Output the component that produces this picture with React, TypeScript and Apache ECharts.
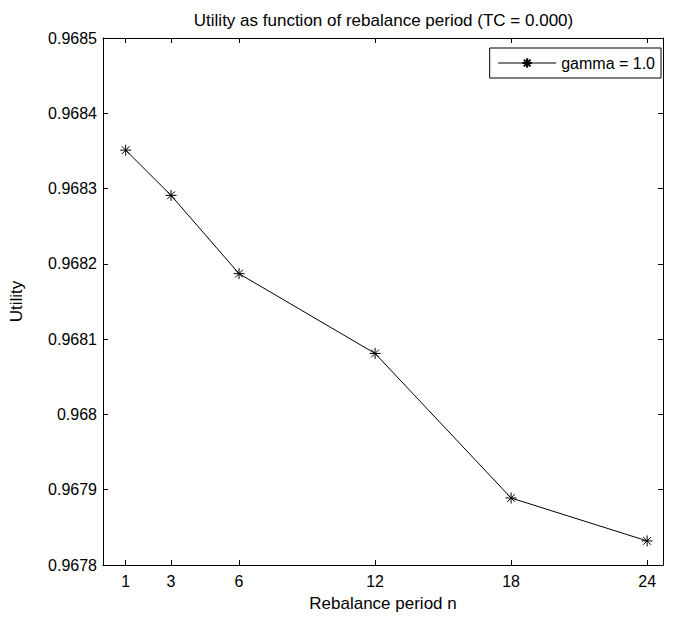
import React, { useEffect, useRef } from "react";
import * as echarts from "echarts";

const periods = [1, 3, 6, 12, 18, 24];
const utility = [0.968351, 0.968291, 0.968187, 0.968081, 0.967889, 0.967832];
const xTicks = [1, 3, 6, 12, 18, 24];
const seriesName = "gamma = 1.0";
const titleText = "Utility as function of rebalance period (TC = 0.000)";

const star = "path://M0,-10L0,10M-10,0L10,0M-7,-7L7,7M-7,7L7,-7";
const FONT = "Liberation Sans, Arial, Helvetica, sans-serif";

export default function App() {
  const ref = useRef<HTMLDivElement>(null);
  useEffect(() => {
    if (!ref.current) return;
    const chart = echarts.init(ref.current, null, { renderer: "svg" });
    const fmtY = (v: number) => String(parseFloat(v.toFixed(4)));
    const axisLine = { show: true, onZero: false, lineStyle: { color: "#000", width: 1 } };
    chart.setOption({
      animation: false,
      backgroundColor: "#fff",
      textStyle: { fontFamily: FONT },
      title: {
        text: titleText,
        left: 94 + (663 - 94) / 2,
        textAlign: "center",
        top: 7,
        textStyle: { fontSize: 17, fontWeight: "normal", color: "#000", fontFamily: FONT },
      },
      legend: {
        data: [seriesName],
        right: 19,
        top: 48,
        orient: "vertical",
        borderColor: "#000",
        borderWidth: 1,
        padding: [7, 6, 7, 8],
        itemWidth: 58,
        itemHeight: 12,
        itemGap: 4,
        lineStyle: { width: 1, color: "#000" },
        textStyle: { fontSize: 16, color: "#000", fontFamily: FONT },
        backgroundColor: "#fff",
      },
      grid: { left: 94, right: 17, top: 38, bottom: 43, containLabel: false },
      xAxis: [
        {
          type: "value",
          min: 0,
          max: 24.7,
          position: "bottom",
          name: "Rebalance period n",
          nameLocation: "middle",
          nameGap: 30,
          nameTextStyle: { fontSize: 17, color: "#000", fontFamily: FONT },
          axisLine,
          axisTick: { show: true, inside: true, length: 5, customValues: xTicks, lineStyle: { color: "#000" } },
          axisLabel: { show: true, customValues: xTicks, fontSize: 16, color: "#000", margin: 8, fontFamily: FONT },
          splitLine: { show: false },
        },
        {
          type: "value",
          min: 0,
          max: 24.7,
          position: "top",
          axisLine,
          axisTick: { show: true, inside: true, length: 5, customValues: xTicks, lineStyle: { color: "#000" } },
          axisLabel: { show: false },
          splitLine: { show: false },
        },
      ],
      yAxis: [
        {
          type: "value",
          min: 0.9678,
          max: 0.9685,
          interval: 0.0001,
          position: "left",
          name: "Utility",
          nameLocation: "middle",
          nameGap: 78,
          nameRotate: 90,
          nameTextStyle: { fontSize: 17, color: "#000", fontFamily: FONT },
          axisLine,
          axisTick: { show: true, inside: true, length: 5, lineStyle: { color: "#000" } },
          axisLabel: { fontSize: 16, color: "#000", formatter: fmtY, margin: 6, fontFamily: FONT },
          splitLine: { show: false },
        },
        {
          type: "value",
          min: 0.9678,
          max: 0.9685,
          interval: 0.0001,
          position: "right",
          axisLine,
          axisTick: { show: true, inside: true, length: 5, lineStyle: { color: "#000" } },
          axisLabel: { show: false },
          splitLine: { show: false },
        },
      ],
      series: [
        {
          name: seriesName,
          type: "line",
          xAxisIndex: 0,
          yAxisIndex: 0,
          data: periods.map((p, i) => [p, utility[i]]),
          symbol: star,
          symbolSize: 11,
          showAllSymbol: true,
          lineStyle: { color: "#000", width: 1 },
          itemStyle: { color: "#000", borderColor: "#000", borderWidth: 1 },
        },
      ],
    });
    return () => chart.dispose();
  }, []);
  return <div ref={ref} style={{ width: 680, height: 617, position: "absolute", left: 0, top: 0 }} />;
}
